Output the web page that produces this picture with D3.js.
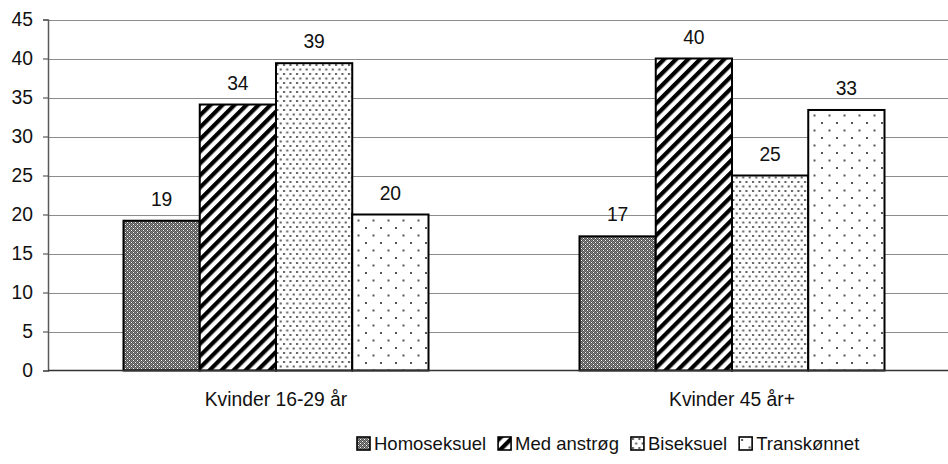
<!DOCTYPE html>
<html>
<head>
<meta charset="utf-8">
<script src="https://cdn.jsdelivr.net/npm/d3@7"></script>
<style>
  html, body { margin: 0; padding: 0; background: #fff; }
  svg { display: block; font-family: "Liberation Sans", Arial, sans-serif; }
</style>
</head>
<body>
<svg id="chart" width="948" height="464"></svg>
<script>
// Age groups on the x axis
const categories = ["Kvinder 16-29 år", "Kvinder 45 år+"];
// Series names (legend order)
const seriesNames = ["Homoseksuel", "Med anstrøg", "Biseksuel", "Transkønnet"];
// Values per series, one per age group
const homoseksuel = [19.2, 17.2];
const medAnstroeg = [34.1, 40.0];
const biseksuel = [39.4, 25.0];
const transkoennet = [20.0, 33.4];
// Y axis ticks
const yTicks = [0, 5, 10, 15, 20, 25, 30, 35, 40, 45];

const seriesValues = [homoseksuel, medAnstroeg, biseksuel, transkoennet];

const svg = d3.select("#chart");
const W = 948, H = 464;
const plot = { left: 48, right: 960, top: 19.5, bottom: 370.5 };
const labelSize = 19.3;

// Fill patterns, one per series
const defs = svg.append("defs");

// Dense checkered grey
const p0 = defs.append("pattern").attr("id", "pat0")
  .attr("patternUnits", "userSpaceOnUse").attr("width", 4).attr("height", 4);
p0.append("rect").attr("width", 4).attr("height", 4).attr("fill", "#8a8a8a");
[[0,0],[2,0],[1,1],[3,1],[0,2],[2,2],[1,3],[3,3]].forEach(([x, y]) =>
  p0.append("rect").attr("x", x).attr("y", y).attr("width", 1).attr("height", 1).attr("fill", "#505050"));
[[1,0],[3,2]].forEach(([x, y]) =>
  p0.append("rect").attr("x", x).attr("y", y).attr("width", 1).attr("height", 1).attr("fill", "#ffffff"));

// Wide diagonal stripes
const p1 = defs.append("pattern").attr("id", "pat1")
  .attr("patternUnits", "userSpaceOnUse").attr("width", 8.5).attr("height", 8.5)
  .attr("patternTransform", "rotate(45)");
p1.append("rect").attr("width", 8.5).attr("height", 8.5).attr("fill", "#fff");
p1.append("rect").attr("width", 4.2).attr("height", 8.5).attr("fill", "#000");

// Fine staggered dots
const p2 = defs.append("pattern").attr("id", "pat2")
  .attr("patternUnits", "userSpaceOnUse").attr("width", 6.5).attr("height", 9);
p2.append("rect").attr("width", 6.5).attr("height", 9).attr("fill", "#fff");
[[1,1],[4.25,5.5]].forEach(([x, y]) =>
  p2.append("rect").attr("x", x).attr("y", y).attr("width", 2).attr("height", 2).attr("fill", "#5a5a5a"));

// Sparse staggered dots
const p3 = defs.append("pattern").attr("id", "pat3")
  .attr("patternUnits", "userSpaceOnUse").attr("width", 15).attr("height", 15);
p3.append("rect").attr("width", 15).attr("height", 15).attr("fill", "#fff");
[[2,2],[9.5,9.5]].forEach(([x, y]) =>
  p3.append("rect").attr("x", x).attr("y", y).attr("width", 2).attr("height", 2).attr("fill", "#555"));

const fills = seriesNames.map((_, i) => `url(#pat${i})`);

svg.append("rect").attr("width", W).attr("height", H).attr("fill", "#fff");

// Scales
const y = d3.scaleLinear().domain([0, 45]).range([plot.bottom, plot.top]);
const x0 = d3.scaleBand().domain(categories).range([plot.left, plot.right]);
const x1 = d3.scaleBand().domain(seriesNames).range([75.5, x0.bandwidth() - 75.5]);

// Horizontal gridlines
svg.append("g").selectAll("line").data(yTicks.filter(t => t > 0)).join("line")
  .attr("x1", plot.left).attr("x2", W)
  .attr("y1", d => Math.round(y(d)) + 0.5).attr("y2", d => Math.round(y(d)) + 0.5)
  .attr("stroke", "#8c8c8c").attr("stroke-width", 1.2);

// Y axis
const yAxis = d3.axisLeft(y).tickValues(yTicks).tickSize(5).tickPadding(10);
const gy = svg.append("g").attr("transform", `translate(${plot.left},0)`).call(yAxis);
gy.select(".domain").attr("stroke", "#5a5a5a").attr("stroke-width", 1.5);
gy.selectAll(".tick line").attr("stroke", "#5a5a5a").attr("stroke-width", 1.2);
gy.selectAll(".tick text").attr("font-size", labelSize).attr("fill", "#111")
  .attr("font-family", "Liberation Sans, Arial, sans-serif");

// Bars
const groups = svg.append("g").selectAll("g").data(categories).join("g")
  .attr("transform", c => `translate(${x0(c)},0)`);

groups.selectAll("rect")
  .data((c, ci) => seriesNames.map((s, si) => ({ s, si, v: seriesValues[si][ci] })))
  .join("rect")
  .attr("x", d => x1(d.s))
  .attr("width", x1.bandwidth())
  .attr("y", d => y(d.v))
  .attr("height", d => y(0) - y(d.v))
  .attr("fill", d => fills[d.si])
  .attr("stroke", "#000").attr("stroke-width", 2);

// Value labels
const fmt = d3.format(".0f");
groups.selectAll("text.val")
  .data((c, ci) => seriesNames.map((s, si) => ({ s, si, v: seriesValues[si][ci] })))
  .join("text").attr("class", "val")
  .attr("x", d => x1(d.s) + x1.bandwidth() / 2)
  .attr("y", d => y(d.v) - 15)
  .attr("text-anchor", "middle").attr("font-size", labelSize).attr("fill", "#111")
  .text(d => fmt(d.v));

// X axis baseline
svg.append("line").attr("x1", plot.left).attr("x2", W)
  .attr("y1", y(0)).attr("y2", y(0))
  .attr("stroke", "#333").attr("stroke-width", 1.5);

// Category labels
svg.append("g").selectAll("text").data(categories).join("text")
  .attr("x", c => x0(c) + x0.bandwidth() / 2)
  .attr("y", 406)
  .attr("text-anchor", "middle").attr("font-size", labelSize).attr("fill", "#111")
  .text(c => c);

// Legend
const legend = svg.append("g");
const box = 13, gapText = 4, gapItem = 12, fs = 18.5;
const items = legend.selectAll("g").data(seriesNames).join("g");
items.append("rect").attr("width", box).attr("height", box)
  .attr("fill", (d, i) => fills[i]).attr("stroke", "#000").attr("stroke-width", 1.6);
items.append("text").attr("x", box + gapText).attr("y", box / 2).attr("dy", "0.35em")
  .attr("font-size", fs).attr("fill", "#111").text(d => d);
let widths = [];
items.each(function () { widths.push(box + gapText + d3.select(this).select("text").node().getComputedTextLength()); });
let cx = 357;
items.attr("transform", (d, i) => {
  const t = `translate(${cx},${437})`;
  cx += widths[i] + gapItem;
  return t;
});
</script>
</body>
</html>
